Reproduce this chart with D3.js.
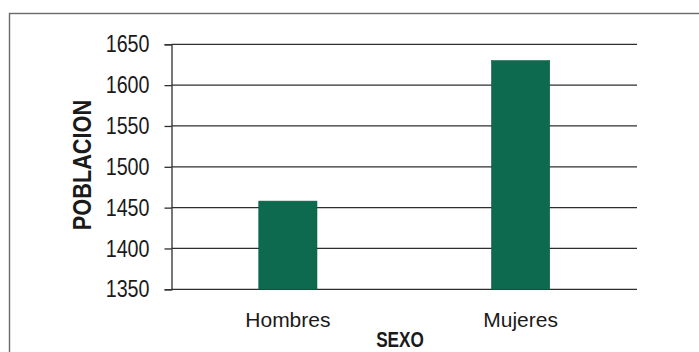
<!DOCTYPE html>
<html>
<head>
<meta charset="utf-8">
<script src="https://cdn.jsdelivr.net/npm/d3@7"></script>
<style>
  html, body { margin: 0; padding: 0; background: #fff; }
  svg { display: block; }
</style>
</head>
<body>
<svg id="chart" width="699" height="352"></svg>
<script>
// Population by sex
const categories = ["Hombres", "Mujeres"];
const poblacion = [1458, 1630];
const yTicks = [1350, 1400, 1450, 1500, 1550, 1600, 1650];
const xTitle = "SEXO";
const yTitle = "POBLACION";

const svg = d3.select("#chart");
const W = 699, H = 352;
const plot = { left: 171.5, right: 637, top: 44.3, bottom: 289.3 };

const font = "'Liberation Sans', Arial, sans-serif";

// squeeze glyphs horizontally to get a narrow face
function condense(sel, factor) {
  sel.each(function () {
    const len = this.getComputedTextLength();
    d3.select(this)
      .attr("textLength", len * factor)
      .attr("lengthAdjust", "spacingAndGlyphs");
  });
}

// outer frame
svg.append("rect")
  .attr("x", 9.5).attr("y", 13.5)
  .attr("width", W).attr("height", H)
  .attr("fill", "#fff")
  .attr("stroke", "#6a6a6a")
  .attr("stroke-width", 1.4);

const x = d3.scaleBand()
  .domain(categories)
  .range([plot.left, plot.right])
  .paddingInner(0.75)
  .paddingOuter(0.375);

const y = d3.scaleLinear()
  .domain([1350, 1650])
  .range([plot.bottom, plot.top]);

// horizontal gridlines
svg.append("g")
  .selectAll("line")
  .data(yTicks)
  .join("line")
  .attr("x1", plot.left).attr("x2", plot.right)
  .attr("y1", d => y(d)).attr("y2", d => y(d))
  .attr("stroke", "#2e2e2e")
  .attr("stroke-width", 1.3);

// bars
svg.append("g")
  .selectAll("rect")
  .data(categories)
  .join("rect")
  .attr("x", d => x(d))
  .attr("width", x.bandwidth())
  .attr("y", (d, i) => y(poblacion[i]))
  .attr("height", (d, i) => y(1350) - y(poblacion[i]))
  .attr("fill", "#0e6a4e")
  .attr("stroke", "#0a5a42")
  .attr("stroke-width", 0.6);

// y axis
const yAxis = svg.append("g")
  .attr("transform", `translate(${plot.left},0)`)
  .call(d3.axisLeft(y).tickValues(yTicks).tickSize(7).tickPadding(15).tickFormat(d3.format("d")));
yAxis.select(".domain").attr("stroke", "#2e2e2e").attr("stroke-width", 1.3);
yAxis.selectAll(".tick line").attr("stroke", "#2e2e2e").attr("stroke-width", 1.3);
yAxis.selectAll("text")
  .attr("font-family", font)
  .attr("font-size", 24)
  .attr("fill", "#1a1a1a")
  .call(condense, 0.82);

// x axis labels
const xAxis = svg.append("g")
  .attr("transform", `translate(0,${plot.bottom})`)
  .call(d3.axisBottom(x).tickSize(0).tickPadding(22.5));
xAxis.select(".domain").remove();
xAxis.selectAll("text")
  .attr("font-family", font)
  .attr("font-size", 21)
  .attr("fill", "#1a1a1a");

// axis titles
svg.append("text")
  .attr("x", 400).attr("y", 347)
  .attr("text-anchor", "middle")
  .attr("font-family", font)
  .attr("font-weight", "bold")
  .attr("font-size", 22)
  .attr("fill", "#1a1a1a")
  .text(xTitle)
  .call(condense, 0.78);

svg.append("text")
  .attr("transform", "translate(91,165) rotate(-90)")
  .attr("text-anchor", "middle")
  .attr("font-family", font)
  .attr("font-weight", "bold")
  .attr("font-size", 25)
  .attr("fill", "#1a1a1a")
  .text(yTitle)
  .call(condense, 0.87);
</script>
</body>
</html>
